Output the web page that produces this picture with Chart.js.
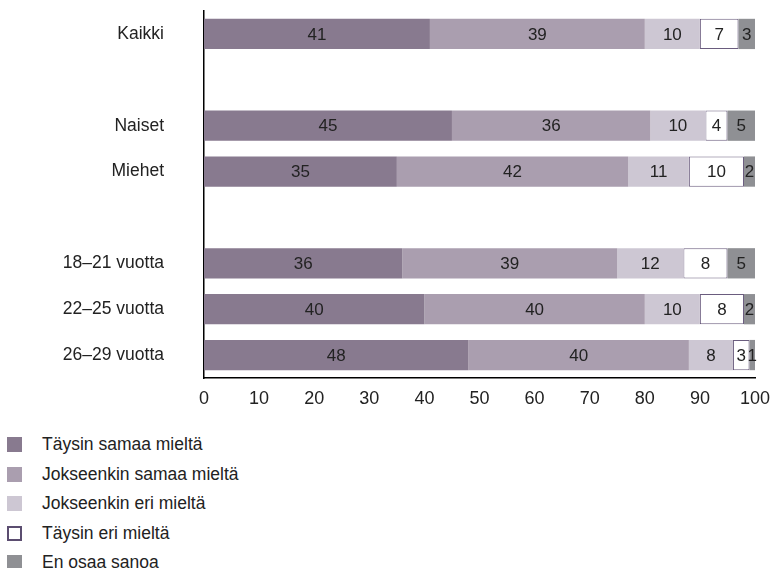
<!DOCTYPE html>
<html>
<head>
<meta charset="utf-8">
<script src="https://cdn.jsdelivr.net/npm/chart.js@4.4.1/dist/chart.umd.min.js"></script>
<style>
  body { margin: 0; background: #fff; font-family: "Liberation Sans", Arial, sans-serif; }
  #wrap { position: absolute; left: 0; top: 0; width: 773px; height: 420px; }
  #legend { position: absolute; left: 7px; top: 430px; color: #222; font-size: 17.5px; }
  .item { height: 29.5px; display: flex; align-items: center; }
  .box { width: 15px; height: 15px; box-sizing: border-box; margin-right: 20px; }
</style>
</head>
<body>
<div id="wrap"><canvas id="myChart" width="773" height="420"></canvas></div>
<div id="legend"></div>
<script>
// categories (empty strings are the gaps between groups)
var categories = ['Kaikki', '', 'Naiset', 'Miehet', '', '18–21 vuotta', '22–25 vuotta', '26–29 vuotta'];

var taysinSamaa     = [41, null, 45, 35, null, 36, 40, 48];
var jokseenkinSamaa = [39, null, 36, 42, null, 39, 40, 40];
var jokseenkinEri   = [10, null, 10, 11, null, 12, 10, 8];
var taysinEri       = [7, null, 4, 10, null, 8, 8, 3];
var enOsaa          = [3, null, 5, 2, null, 5, 2, 1];

var seriesNames = ['Täysin samaa mieltä', 'Jokseenkin samaa mieltä', 'Jokseenkin eri mieltä', 'Täysin eri mieltä', 'En osaa sanoa'];
var xTicks = [0, 10, 20, 30, 40, 50, 60, 70, 80, 90, 100];

var fills = ['#887a8f', '#aa9eaf', '#cdc7d3', '#ffffff', '#8f9094'];
var outline = '#6a5c7e';

var seriesData = [taysinSamaa, jokseenkinSamaa, jokseenkinEri, taysinEri, enOsaa];
var datasets = seriesData.map(function (d, i) {
  return {
    label: seriesNames[i],
    data: d,
    backgroundColor: fills[i],
    borderColor: i === 3 ? outline : fills[i],
    borderWidth: i === 3 ? 1 : 0,
    borderSkipped: false,
    categoryPercentage: 1,
    barPercentage: 0.66
  };
});

// write the numbers in the middle of each segment
var valueLabels = {
  id: 'valueLabels',
  afterDatasetsDraw: function (chart) {
    var ctx = chart.ctx;
    ctx.save();
    ctx.font = '17px "Liberation Sans", Arial, sans-serif';
    ctx.fillStyle = '#222';
    ctx.textAlign = 'center';
    ctx.textBaseline = 'middle';
    chart.data.datasets.forEach(function (ds, i) {
      var meta = chart.getDatasetMeta(i);
      meta.data.forEach(function (bar, j) {
        var v = ds.data[j];
        if (v == null) return;
        var p = bar.getCenterPoint();
        ctx.fillText(String(v), p.x, p.y + 1);
      });
    });
    ctx.restore();
  }
};

// no automatic label padding around the plot, the layout padding decides it
function noPadding(scale) {
  scale.paddingLeft = 0;
  scale.paddingRight = 0;
  scale.paddingTop = 0;
  scale.paddingBottom = 0;
}

var ctx = document.getElementById('myChart');
var myChart = new Chart(ctx, {
  type: 'bar',
  data: { labels: categories, datasets: datasets },
  plugins: [valueLabels],
  options: {
    indexAxis: 'y',
    responsive: false,
    animation: false,
    layout: { padding: { top: 11, right: 18, left: 0, bottom: 0 } },
    plugins: { legend: { display: false }, tooltip: { enabled: false } },
    scales: {
      x: {
        stacked: true,
        min: 0,
        max: 100,
        afterBuildTicks: function (scale) {
          scale.ticks = xTicks.map(function (v) { return { value: v }; });
        },
        afterFit: function (scale) { scale.height = 42; noPadding(scale); },
        grid: { display: false, drawTicks: false },
        border: { display: true, color: '#000', width: 1.5 },
        ticks: { color: '#222', padding: 10, font: { size: 18, family: '"Liberation Sans", Arial, sans-serif' } }
      },
      y: {
        stacked: true,
        afterFit: function (scale) { scale.width = 204; noPadding(scale); },
        grid: { display: false, drawTicks: false },
        border: { display: true, color: '#000', width: 1.5 },
        ticks: { color: '#222', padding: 40, font: { size: 17.5, family: '"Liberation Sans", Arial, sans-serif' } }
      }
    }
  }
});

// legend list under the chart
var legend = document.getElementById('legend');
seriesNames.forEach(function (name, i) {
  var row = document.createElement('div');
  row.className = 'item';
  var box = document.createElement('span');
  box.className = 'box';
  box.style.background = fills[i];
  if (i === 3) box.style.border = '2px solid #5b4d70';
  row.appendChild(box);
  row.appendChild(document.createTextNode(name));
  legend.appendChild(row);
});
</script>
</body>
</html>
